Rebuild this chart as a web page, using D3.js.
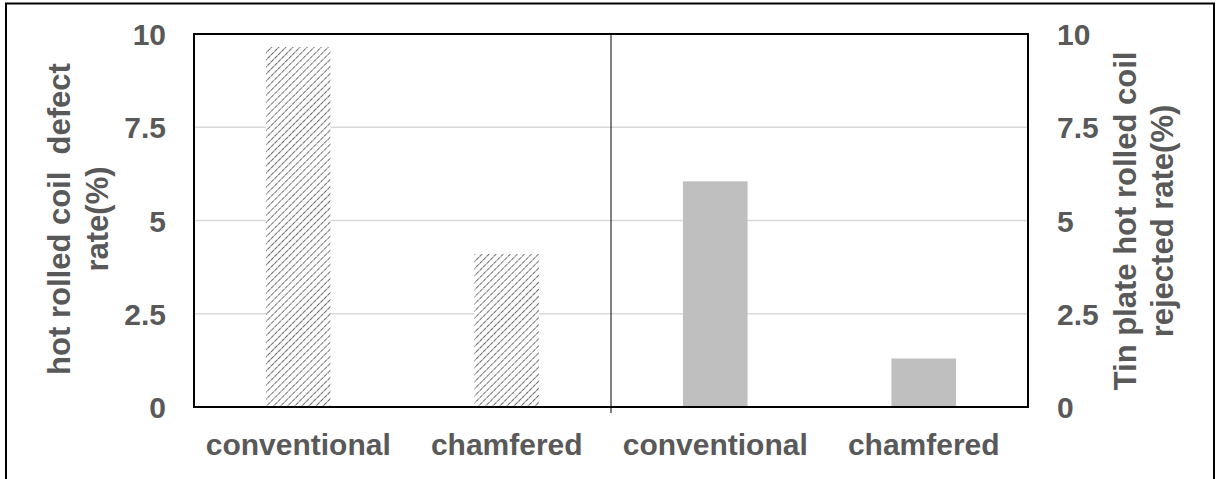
<!DOCTYPE html>
<html><head><meta charset="utf-8">
<script src="https://cdn.jsdelivr.net/npm/d3@7"></script>
<style>body{margin:0;background:#fff}svg{display:block}</style>
</head><body>
<script>
const categories = ["conventional", "chamfered", "conventional", "chamfered"];
const groups = ["left", "left", "right", "right"];
const values = [9.65, 4.1, 6.05, 1.3];
const yTicks = [0, 2.5, 5, 7.5, 10];
const leftTitle = ["hot rolled coil  defect", "rate(%)"];
const rightTitle = ["Tin plate hot rolled coil", "rejected rate(%)"];

const W = 1217, H = 479;
const m = {l:194, r:1028, t:34, b:407};
const svg = d3.select("body").append("svg").attr("width", W).attr("height", H);
svg.append("rect").attr("x",6).attr("y",3.5).attr("width",1208).attr("height",490)
  .attr("fill","none").attr("stroke","#000").attr("stroke-width",2);

const defs = svg.append("defs");
const pat = defs.append("pattern").attr("id","hatch").attr("patternUnits","userSpaceOnUse")
  .attr("width",5).attr("height",5).attr("patternTransform","rotate(45)");
pat.append("rect").attr("width",5).attr("height",5).attr("fill","#fff");
pat.append("line").attr("x1",0).attr("y1",0).attr("x2",0).attr("y2",5)
  .attr("stroke","#666").attr("stroke-width",1.9).attr("stroke-dasharray","2.5,0.8");

const x = d3.scaleBand().domain(d3.range(categories.length)).range([m.l, m.r]).paddingInner(0.69).paddingOuter(0.345);
const y = d3.scaleLinear().domain([0,10]).range([m.b, m.t]);
const font = "Arial, 'Liberation Sans', sans-serif";
const grey = "#595959";
const fs = 30;

// gridlines
svg.append("g").selectAll("line").data(yTicks.filter(d=>d>0 && d<10)).join("line")
  .attr("x1",m.l).attr("x2",m.r).attr("y1",d=>y(d)).attr("y2",d=>y(d))
  .attr("stroke","#d9d9d9").attr("stroke-width",1.3);

// bars
svg.append("g").selectAll("rect").data(values).join("rect")
  .attr("x",(d,i)=>x(i)).attr("width",x.bandwidth())
  .attr("y",d=>y(d)).attr("height",d=>y(0)-y(d))
  .attr("fill",(d,i)=>groups[i]==="left"?"url(#hatch)":"#bfbfbf");

// divider
const xm = (m.l+m.r)/2;
svg.append("line").attr("x1",xm).attr("x2",xm).attr("y1",m.t).attr("y2",m.b+6)
  .attr("stroke","#000").attr("stroke-width",1);

// frame
svg.append("rect").attr("x",m.l).attr("y",m.t).attr("width",m.r-m.l).attr("height",m.b-m.t)
  .attr("fill","none").attr("stroke","#000").attr("stroke-width",2);

// axes
const yl = d3.axisLeft(y).tickValues(yTicks).tickSize(0).tickPadding(28).tickFormat(d=>d);
const gl = svg.append("g").attr("transform",`translate(${m.l},0)`).call(yl);
const yr = d3.axisRight(y).tickValues(yTicks).tickSize(0).tickPadding(29).tickFormat(d=>d);
const gr = svg.append("g").attr("transform",`translate(${m.r},0)`).call(yr);
const xa = d3.axisBottom(x).tickSize(0).tickFormat(i=>categories[i]);
const gx = svg.append("g").attr("transform",`translate(0,${m.b})`).call(xa);
[gl,gr,gx].forEach(g=>{
  g.select(".domain").remove();
  g.selectAll("text").attr("font-family",font).attr("font-size",fs).attr("font-weight","bold").attr("fill",grey);
});
gl.selectAll("text").attr("dy","0.35em");
gr.selectAll("text").attr("dy","0.35em");
gx.selectAll("text").attr("y",48).attr("dy",0);

// titles
function title(lines, xs, cy){
  lines.forEach((t,i)=>{
    svg.append("text").attr("transform",`translate(${xs[i]},${cy}) rotate(-90)`)
      .attr("text-anchor","middle").attr("font-family",font).attr("font-size",31)
      .attr("font-weight","bold").attr("fill",grey).style("white-space","pre").text(t);
  });
}
title(leftTitle,[70,108],219);
title(rightTitle,[1136,1173],221);
</script>
</body></html>
